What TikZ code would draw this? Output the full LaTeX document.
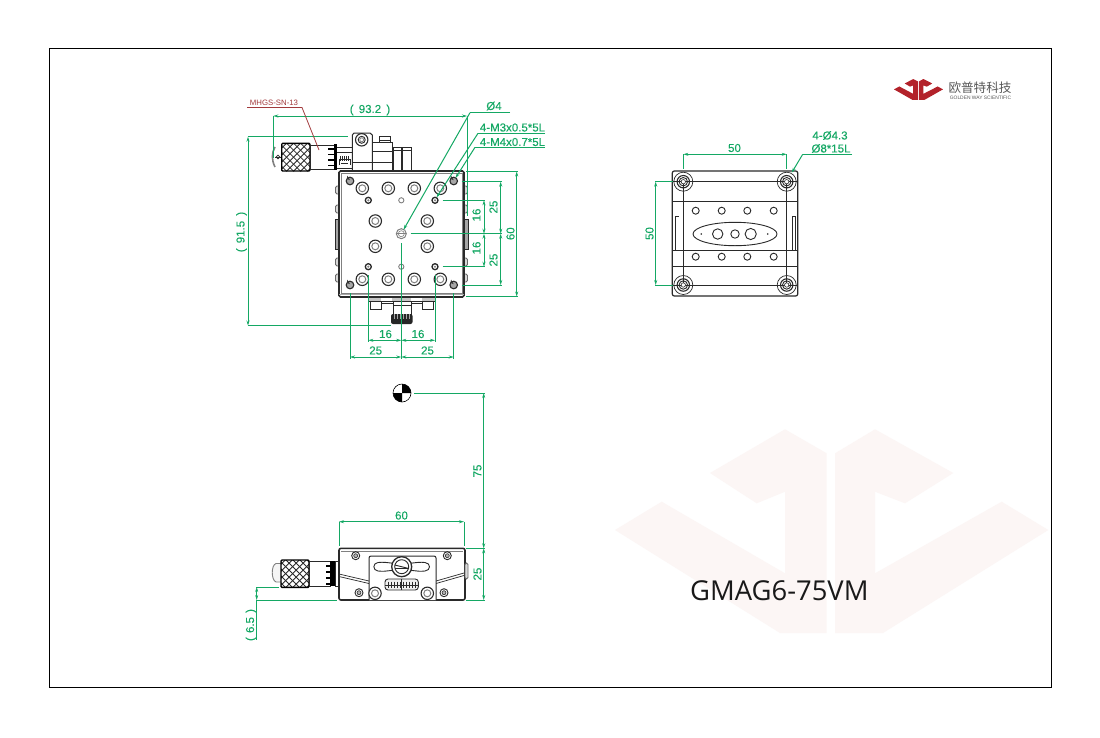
\documentclass[tikz,border=0pt]{standalone}
\usepackage{fontspec}
\setmainfont{Liberation Sans}
\newfontfamily\cjkfont{Noto Sans CJK SC}
\newfontfamily\titlefont{Open Sans}
\newfontfamily\dimfont[FakeBold=0.15]{Liberation Sans}
\usetikzlibrary{arrows.meta}
\definecolor{dimgreen}{HTML}{14A864}
\definecolor{part}{HTML}{2A2A2A}
\definecolor{wmark}{HTML}{FCF6F5}
\definecolor{logored}{HTML}{B3222A}
\definecolor{labred}{HTML}{A23A3C}
\tikzset{
  dimline/.style={draw=dimgreen,line width=1pt,{Stealth[length=5pt,width=3pt]}-{Stealth[length=5pt,width=3pt]}},
  extline/.style={draw=dimgreen,line width=1pt},
  leaderline/.style={draw=dimgreen,line width=1pt,-{Stealth[length=5pt,width=3pt]}},
  dimtext/.style={text=dimgreen,font=\dimfont\fontsize{11.5}{12}\selectfont,inner sep=0pt},
  outline/.style={draw=part,line width=1pt},
  thin part/.style={draw=part,line width=0.7pt},
  bump/.style={draw=part!70,fill=gray!30,line width=0.8pt,rounded corners=1.5pt},
}
\newcommand{\holeL}[1]{\fill[white] #1 circle (6.4);\draw[part,line width=1.1pt] #1 circle (6.2);\draw[draw=gray,line width=1pt] #1 circle (3.5);}
\newcommand{\holeS}[1]{\draw[part,line width=1.3pt] #1 circle (3);\fill[gray] #1 circle (1.2);}
\newcommand{\holeD}[1]{\fill[gray!70] #1 circle (3.8);\draw[part,line width=1.1pt] #1 circle (3.8);\fill[black!80] #1 ++(0,-0.8) arc (90:210:3) -- cycle;}
\newcommand{\holeC}[1]{\draw[gray,line width=0.9pt] #1 circle (2.6);}
\newcommand{\holeM}[1]{\draw[part,line width=0.9pt] #1 circle (4);\fill[gray!60] #1 circle (2);\draw[part,line width=0.6pt] #1 circle (2);}
\newcommand{\corner}[1]{\draw[thin part,fill=white] #1 circle (9.5);\draw[part,line width=1.1pt] #1 circle (6.2);\draw[part,line width=0.9pt] #1 circle (4.2);}
\newcommand{\jlogo}[1]{%
  \fill[#1] (710,473)--(785,429.3)--(826.7,453.3)--(826.7,633)--(780,633)--(615,530)--(661.7,501.7)--(785,573.3)--(785,491.7)--(756.7,503.3)--cycle;
  \fill[#1] (835,453.3)--(875,429.3)--(953.3,473)--(905,503.3)--(875,491.7)--(875,573.3)--(1001.7,501.7)--(1048.3,530)--(883,633)--(835,633)--cycle;}
\newcommand{\knurl}[4]{% x1 y1 x2 y2
  \begin{scope}
    \clip (#1,#2) rectangle (#3,#4);
    \foreach \k in {-30,-23,...,50} {
      \draw[part,line width=0.8pt] (#1+\k,#2) -- ++(28,28);
      \draw[part,line width=0.8pt] (#1+\k,#4) -- ++(28,-28);
    }
  \end{scope}
  \draw[black,line width=1.4pt,rounded corners=1pt] (#1,#2) rectangle (#3,#4);}
\begin{document}
\begin{tikzpicture}[x=1pt,y=-1pt]
\useasboundingbox (0,0) rectangle (1100,737);
\fill[white] (0,0) rectangle (1100,737);
% watermark
\jlogo{wmark}
% frame
\draw[black,line width=1pt] (49.5,48.5) rectangle (1051.5,687);
% logo
\begin{scope}[shift={(894,79)},xscale=0.113,yscale=0.103,shift={(-615,-429.3)}]
\jlogo{logored}
\end{scope}
\node[text=black!65,inner sep=0pt,font=\cjkfont\fontsize{12.6}{13}\selectfont] (logocn) at (980,88) {欧普特科技};
\node[text=black!65,inner sep=0pt,font=\fontsize{4.9}{5}\selectfont] (logoen) at (980.5,98) {GOLDEN WAY SCIENTIFIC};
% ---------- coordinates
\coordinate (C) at (401.3,233.7);
% ---------- top view: micrometer
\draw[gray,line width=1.6pt] (275,147) .. controls (271.5,153) and (271.5,160) .. (275,167);
\draw[thin part] (275,157) -- (282,157);
\draw[thin part] (278,157) circle (1.8);
\knurl{281.7}{143.3}{310}{171}
\draw[outline] (310,145) rectangle (335,169.5);
\fill[black] (333.5,144) rectangle (337,169.5);
\foreach \yy in {149,154.5,160,165.5}{\draw[black,line width=1.2pt] (328,\yy) -- (334,\yy);}
\draw[thin part] (337,147) -- (353,147);
\draw[thin part] (337,152) -- (353,152);
\draw[thin part] (337,168) -- (353,168);
\draw[thin part] (339,165) -- (339,159) -- (350,159) -- (350,165);
\foreach \xx in {340,342,...,349}{\draw[part,line width=0.5pt] (\xx,156) -- (\xx,161);}
\draw[thin part] (341,163) -- (348,163);
% bracket and blocks
\draw[outline,fill=white] (352.3,135) -- (354,133) -- (370,133) -- (372.3,135) -- (372.3,171) -- (352.3,171) -- cycle;
\draw[thin part] (352.3,162) -- (372.3,162);
\draw[part,line width=1.1pt] (361.7,139.8) circle (6.2);
\draw[part,line width=0.9pt] (361.7,139.8) circle (3.5);
\draw[gray,line width=0.8pt] (361.7,139.8) circle (2);
\draw[outline] (372.3,142) rectangle (392,171);
\draw[thin part] (372.3,151.7) -- (392,151.7);
\draw[thin part] (372.3,162) -- (392,162);
\draw[thin part] (379,142) -- (379,136) -- (390,136) -- (390,142);
\draw[thin part] (379,140.5) -- (390,140.5);
\draw[thin part] (393,171) -- (393,147) -- (401,147) -- (401,171);
\draw[thin part] (402,171) -- (402,147) -- (411,147) -- (411,171);
\draw[thin part] (393,150) -- (411,150);
% top view: side bumps
\foreach \yy in {190,209,262,278}{
  \draw[bump] (335.5,\yy-4) rectangle (340,\yy+4);
  \draw[bump] (463,\yy-4) rectangle (467.5,\yy+4);
}
\fill[gray!70] (335,219) rectangle (340,249);
\draw[part,line width=0.9pt] (335,219) rectangle (340,249);
\fill[gray!70] (463,219) rectangle (468,249);
\draw[part,line width=0.9pt] (463,219) rectangle (468,249);
% bottom attachment
\draw[bump] (352,297) arc (180:360:5 and 3);
\draw[bump] (442,297) arc (180:360:5 and 3);
\fill[gray!45] (368,297.5) rectangle (435.7,301);
\fill[white] (381,298) rectangle (392,300.5);
\fill[white] (411,298) rectangle (422,300.5);
\draw[thin part] (368,297.5) rectangle (435.7,301);
\draw[thin part] (370,301) rectangle (381,309);
\draw[thin part] (422,301) rectangle (433,309);
\draw[thin part] (393,301) rectangle (411,314);
\draw[thin part] (393,305) -- (411,305);
\draw[thin part] (381,303) -- (393,303);
\draw[thin part] (411,303) -- (422,303);
\fill[black!85,rounded corners=2pt] (391,314) rectangle (412.5,324);
\foreach \xx in {394,397,...,410}{\draw[gray!70,line width=0.4pt] (\xx,314) -- (\xx,319);}
% plate
\draw[draw=part,line width=1.6pt,fill=white,rounded corners=1.5pt] (339,171) rectangle (464,297);
\draw[draw=gray,line width=0.7pt] (341,173.5) rectangle (462,293.5);
\draw[draw=gray!70,line width=0.7pt] (339,294.5) -- (464,294.5);
\foreach \xx in {362.3,388.3,414.3,440.3}{\holeL{(\xx,188.3)}\holeL{(\xx,279.3)}}
\foreach \xx in {375.3,427.3}{\holeL{(\xx,221)}\holeL{(\xx,246.3)}}
\foreach \xx in {368.3,435}{\holeS{(\xx,200.3)}\holeS{(\xx,266.7)}}
\foreach \xx in {350,453.7}{\holeD{(\xx,181)}\holeD{(\xx,285)}}
\holeC{(401.3,200.3)}\holeC{(401.3,266.7)}
\draw[gray,line width=1pt] (C) circle (5);
\draw[gray,line width=0.6pt] (C) circle (3);
\draw[gray,line width=0.5pt] (396.3,233.7) -- (406.3,233.7);
% ---------- right view
\draw[draw=part,line width=1.2pt,rounded corners=2pt] (672.3,171) rectangle (797.7,296);
\foreach \yy in {201,250.7,266.7}{\draw[thin part] (672.3,\yy) -- (797.7,\yy);}
\draw[thin part] (675,250.7) -- (675,216) -- (679,216);
\draw[thin part] (795,250.7) -- (795,216) -- (792.7,216) -- (792.7,250.7);
\foreach \xx in {695.7,721.7,747.3,773.7}{\draw[part,line width=0.9pt] (\xx,210.7) circle (3.5);\draw[part,line width=0.9pt] (\xx,256.7) circle (3.5);}
\draw[part,line width=0.9pt] (735,234) ellipse (42 and 11.7);
\draw[part,line width=0.9pt] (717.7,234) circle (5.2);
\draw[part,line width=0.9pt] (735,234) circle (4.2);
\draw[part,line width=0.9pt] (750.7,234) circle (5.6);
\fill[part] (701.3,234) circle (0.9);\fill[part] (767.7,234) circle (0.9);
\foreach \xx in {683.3,786.7}{\foreach \yy in {181.7,285}{\corner{(\xx,\yy)}}}
\draw[part,line width=1pt] (672.3,181.7) -- (797.7,181.7);
\draw[part,line width=1pt] (672.3,285) -- (797.7,285);
\draw[part,line width=0.9pt] (683.3,181.7) -- (683.3,285);
\draw[part,line width=0.9pt] (786.7,181.7) -- (786.7,285);
\foreach \xx in {683.3,786.7}{\foreach \yy in {181.7,285}{\fill[white] (\xx,\yy) circle (2.2);\draw[part,line width=0.6pt] (\xx,\yy) circle (2.2);}}
% ---------- front view
\draw[gray,line width=0.9pt,fill=gray!8] (281,563.5) -- (276,563.5) .. controls (271,565) and (271,580) .. (276,582) -- (281,582);
\knurl{281}{560}{309}{587.3}
\draw[outline] (309,561) rectangle (330,586);
\fill[black] (330,561) rectangle (335,586);
\foreach \yy in {566,572,578,584}{\draw[black,line width=1.2pt] (326,\yy) -- (332,\yy);}
\draw[thin part] (335,561) rectangle (338.5,586);
\draw[draw=part,line width=1.6pt,fill=white,rounded corners=2pt] (339,548.3) rectangle (465,600);
\draw[draw=gray,line width=0.7pt] (341,551) -- (463,551);
\draw[thin part] (339,574) -- (369,581);
\draw[thin part] (339,576.5) -- (369,583.5);
\draw[thin part] (436,581) -- (465,572.7);
\draw[thin part] (436,583.5) -- (465,575.2);
\draw[bump] (465,563) rectangle (468,579);
\draw[draw=part,line width=1pt,rounded corners=2pt,fill=white] (369,600) -- (369,556) -- (436,556) -- (436,600);
\draw[part,line width=0.9pt,fill=white] (378,562.5) .. controls (388,561.5) and (392,564) .. (401.7,564) .. controls (411,564) and (416,561.5) .. (425,562.5) .. controls (431,563) and (431,570.5) .. (425,571) .. controls (416,572) and (411,569.5) .. (401.7,569.5) .. controls (392,569.5) and (388,572) .. (378,571) .. controls (372.5,570.5) and (372.5,563) .. (378,562.5) -- cycle;
\draw[part,line width=1.3pt,fill=white] (401.7,566.7) circle (10);
\draw[part,line width=0.9pt] (401.7,566.7) circle (7);
\draw[part,line width=0.9pt] (394.7,565) -- (408.7,568.5);
\draw[part,line width=0.6pt] (394.7,568) -- (408.7,568);
\draw[part,line width=0.9pt,fill=gray!12,rounded corners=3pt] (385,579) rectangle (418.3,590);
\foreach \xx in {388,391,...,416}{\draw[part,line width=0.5pt] (\xx,581.5) -- (\xx,588);}
\draw[part,line width=0.6pt] (385,585) -- (418.3,585);
\draw[part,line width=0.7pt] (401.7,579) -- (401.7,590);
\foreach \xx/\yy in {355.7/555.7,447.3/555.7,359/592.7,444/592.7}{\holeM{(\xx,\yy)}}
\foreach \xx in {375,427.3}{\holeL{(\xx,593.3)}}
% datum
\draw[black,line width=0.6pt,fill=white] (402,393) circle (9);
\fill[black] (402,393) -- (411,393) arc (0:-90:9) -- cycle;
\fill[black] (402,393) -- (393,393) arc (180:90:9) -- cycle;
% ---------- dimensions: top view
\draw[extline] (466,171.5) -- (518,171.5);
\draw[extline] (466,296.5) -- (518,296.5);
\draw[extline] (461.5,181.7) -- (502,181.7);
\draw[extline] (461.5,285) -- (502,285);
\draw[extline] (442.5,200.3) -- (485,200.3);
\draw[extline] (442.5,266.7) -- (485,266.7);
\draw[extline] (410.7,233.7) -- (502,233.7);
\draw[dimline] (516.7,171.5) -- (516.7,296.5);
\draw[dimline] (500.7,181.7) -- (500.7,233.7);
\draw[dimline] (500.7,233.7) -- (500.7,285);
\draw[dimline] (484,200.3) -- (484,233.7);
\draw[dimline] (484,233.7) -- (484,266.7);
\node[dimtext,rotate=90] (r16a) at (476.5,215) {16};
\node[dimtext,rotate=90] (r16b) at (476.5,248) {16};
\node[dimtext,rotate=90] (r25a) at (493.5,207) {25};
\node[dimtext,rotate=90] (r25b) at (493.5,260) {25};
\node[dimtext,rotate=90] (r60) at (510.5,233.7) {60};
\draw[extline] (368.3,275) -- (368.3,342);
\draw[extline] (435,275) -- (435,342);
\draw[extline] (350,293) -- (350,359);
\draw[extline] (453.7,293) -- (453.7,359);
\draw[extline] (401.3,243) -- (401.3,359);
\draw[dimline] (368.3,340.3) -- (401.3,340.3);
\draw[dimline] (401.3,340.3) -- (435,340.3);
\draw[dimline] (350,357) -- (401.3,357);
\draw[dimline] (401.3,357) -- (453.7,357);
\node[dimtext] (b16a) at (385.5,334) {16};
\node[dimtext] (b16b) at (418,334) {16};
\node[dimtext] (b25a) at (375.7,350.5) {25};
\node[dimtext] (b25b) at (427.5,350.5) {25};
\draw[extline] (273.3,116) -- (273.3,158);
\draw[extline] (467,116) -- (467,216);
\draw[dimline] (273.3,116) -- (467,116);
\node[dimtext] (d932) at (370,110) {(\hspace{2pt} 93.2 \hspace{2pt})};
\draw[extline] (248,136.7) -- (348,136.7);
\draw[extline] (248,325.5) -- (391,325.5);
\draw[dimline] (248,136.7) -- (248,325.5);
\node[dimtext,rotate=90] (d915) at (241.5,232) {(\hspace{2pt} 91.5 \hspace{2pt})};
% leaders
\coordinate (phi4) at (470,112.7);
\coordinate (lm3) at (478,133.3);
\coordinate (lm4) at (475,147.3);
\draw[extline] (510,112.7) -- (phi4);
\draw[leaderline] (phi4) -- (403.5,229.8);
\draw[extline] (545,133.3) -- (lm3);
\draw[leaderline] (lm3) -- (436.5,197.5);
\draw[extline] (545,147.3) -- (lm4);
\draw[leaderline] (lm4) -- (455.5,178);
\node[dimtext] (tphi4) at (494,106) {Ø4};
\node[dimtext] (tm3) at (512.5,127.5) {4-M3x0.5*5L};
\node[dimtext] (tm4) at (512.5,142) {4-M4x0.7*5L};
% red label
\draw[labred,line width=0.8pt] (247,107.5) -- (302,107.5) -- (319,150);
\node[text=labred,inner sep=0pt,font=\fontsize{7.8}{8}\selectfont] (tmhgs) at (274,103) {MHGS-SN-13};
% ---------- dimensions: right view
\draw[extline] (683.3,154.3) -- (683.3,169);
\draw[extline] (786.7,154.3) -- (786.7,169);
\draw[dimline] (683.3,154.3) -- (786.7,154.3);
\node[dimtext] (s50a) at (734.5,148) {50};
\draw[extline] (655,181.7) -- (673,181.7);
\draw[extline] (655,285) -- (673,285);
\draw[dimline] (655.7,181.7) -- (655.7,285);
\node[dimtext,rotate=90] (s50b) at (649.5,233.5) {50};
\coordinate (lb) at (802.7,154.3);
\draw[extline] (852,154.3) -- (lb);
\draw[leaderline] (lb) -- (791.7,172.7);
\node[dimtext] (t43) at (830,135.5) {4-Ø4.3};
\node[dimtext] (t815) at (831,148.5) {Ø8*15L};
% ---------- dimensions: front view
\draw[extline] (339,521.7) -- (339,546);
\draw[extline] (464,521.7) -- (464,546);
\draw[dimline] (339,521.7) -- (464,521.7);
\node[dimtext] (f60) at (401.5,515.5) {60};
\draw[extline] (414,393) -- (484.5,393);
\draw[extline] (466,548.3) -- (484.5,548.3);
\draw[extline] (466,600) -- (484.5,600);
\draw[dimline] (483.7,393) -- (483.7,548.3);
\draw[dimline] (483.7,548.3) -- (483.7,600);
\node[dimtext,rotate=90] (f75) at (477.5,471) {75};
\node[dimtext,rotate=90] (f25) at (477.5,574) {25};
\draw[extline] (256,587) -- (279,587);
\draw[extline] (256,600) -- (337,600);
\draw[dimline] (256.7,587) -- (256.7,600);
\draw[extline] (256.7,600) -- (256.7,640);
\node[dimtext,rotate=90] (f65) at (251,625) {(\hspace{1pt} 6.5 \hspace{1pt})};
% title
\node[anchor=base west,inner sep=0pt,font=\titlefont\fontsize{27.4}{30}\selectfont,text=black!90] (title) at (690,600.5) {GMAG6-75VM};
\end{tikzpicture}
\end{document}
